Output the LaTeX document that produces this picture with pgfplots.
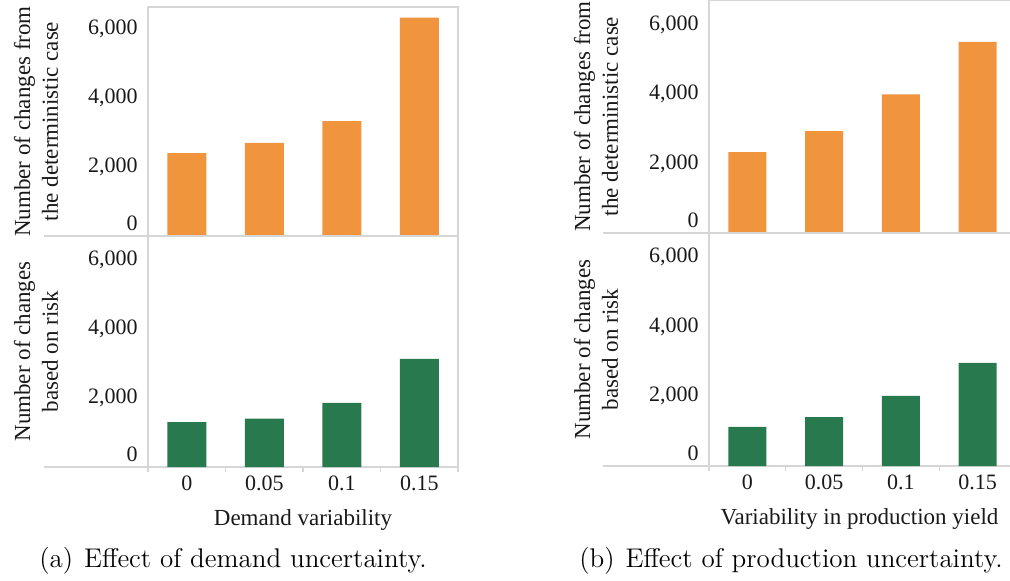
\documentclass[border=0pt]{standalone}
\usepackage{fontspec}
\usepackage{pgfplots}
\pgfplotsset{compat=1.18}
\usetikzlibrary{calc}
\newfontfamily\tnr{Liberation Serif}
\definecolor{barorange}{RGB}{240,149,62}
\definecolor{bargreen}{RGB}{40,122,78}
\definecolor{framegrey}{RGB}{214,214,214}
\definecolor{textdark}{RGB}{25,25,25}

% shared look of the four bar panels
\pgfplotsset{
  panel/.style={
    scale only axis, anchor=south west,
    xmin=-0.5, xmax=3.5, ymin=0,
    ybar, clip=false,
    axis line style={framegrey, line width=0.6pt},
    ytick={0,2000,4000,6000},
    yticklabels={{\raisebox{6.5pt}[\height][\depth]{0}},{2,000},{4,000},{6,000}},
    xtick={0,1,2,3},
    major tick length=0pt,
    ticklabel style={font=\tnr\fontsize{11}{13}\selectfont, text=textdark, inner sep=0pt},
    yticklabel style={anchor=east, xshift=-5pt},
    label style={font=\tnr\fontsize{11.5}{13.8}\selectfont, text=textdark, align=center},
  },
  toppanel/.style={panel, xticklabels={}},
  bottompanel/.style={panel,
    xticklabels={0,0.05,0.1,0.15},
    xticklabel style={anchor=base, yshift=-11.5pt},
    minor xtick={-0.5,0.5,1.5,2.5,3.5},
    minor tick length=2.5pt, tick align=outside, xtick pos=left,
    minor tick style={framegrey, line width=0.6pt},
  },
}

% values per panel
\pgfplotstableread{
x dev risk
0 2400 1300
1 2700 1400
2 3330 1860
3 6330 3140
}\demand
\pgfplotstableread{
x dev risk
0 2330 1120
1 2940 1400
2 4000 2010
3 5510 2960
}\production

\begin{document}
\begin{tikzpicture}
\useasboundingbox (0,0) rectangle (505pt,290pt);

% (a) demand uncertainty
\begin{axis}[toppanel, at={(74pt,172pt)}, width=155pt, height=114.5pt,
  ymax=6640, bar width=19.5pt,
  ylabel={Number of changes from\\the deterministic case},
  ylabel style={at={($(rel axis cs:0,0.5)+(-56pt,0)$)}, anchor=center}]
  \addplot[fill=barorange, draw=none] table[x=x, y=dev] {\demand};
\end{axis}
\begin{axis}[bottompanel, at={(74pt,56.5pt)}, width=155pt, height=115.5pt,
  ymax=6700, bar width=19.5pt,
  ylabel={Number of changes\\based on risk},
  ylabel style={at={($(rel axis cs:0,0.5)+(-56pt,0)$)}, anchor=center},
  xlabel={Demand variability},
  xlabel style={at={(rel axis cs:0.5,0)}, anchor=base, yshift=-29pt}]
  \addplot[fill=bargreen, draw=none] table[x=x, y=risk] {\demand};
  \draw[framegrey, line width=0.6pt] (rel axis cs:0,0) -- ++(-71.5pt,0);
  \draw[framegrey, line width=0.6pt] (rel axis cs:0,1) -- ++(-71.5pt,0);
\end{axis}

% (b) production uncertainty
\begin{axis}[toppanel, at={(354.5pt,173.5pt)}, width=153.5pt, height=116.5pt,
  ymax=6720, bar width=19pt,
  ylabel={Number of changes from\\the deterministic case},
  ylabel style={at={($(rel axis cs:0,0.5)+(-56.5pt,0)$)}, anchor=center}]
  \addplot[fill=barorange, draw=none] table[x=x, y=dev] {\production};
\end{axis}
\begin{axis}[bottompanel, at={(354.5pt,57pt)}, width=153.5pt, height=116.5pt,
  ymax=6680, bar width=19pt,
  ylabel={Number of changes\\based on risk},
  ylabel style={at={($(rel axis cs:0,0.5)+(-56.5pt,0)$)}, anchor=center},
  xlabel={Variability in production yield},
  xlabel style={at={(rel axis cs:0.49,0)}, anchor=base, yshift=-29pt}]
  \addplot[fill=bargreen, draw=none] table[x=x, y=risk] {\production};
  \draw[framegrey, line width=0.6pt] (rel axis cs:0,0) -- ++(-72pt,0);
  \draw[framegrey, line width=0.6pt] (rel axis cs:0,1) -- ++(-72pt,0);
\end{axis}

% sub-captions
\node[anchor=base, font=\fontsize{13.5}{16}\selectfont] at (116.5pt,6.5pt)
  {(a)\hspace{5.5pt}Effect of demand uncertainty.};
\node[anchor=base, font=\fontsize{13.5}{16}\selectfont] at (395.5pt,6.5pt)
  {(b)\hspace{5.5pt}Effect of production uncertainty.};
\end{tikzpicture}
\end{document}
